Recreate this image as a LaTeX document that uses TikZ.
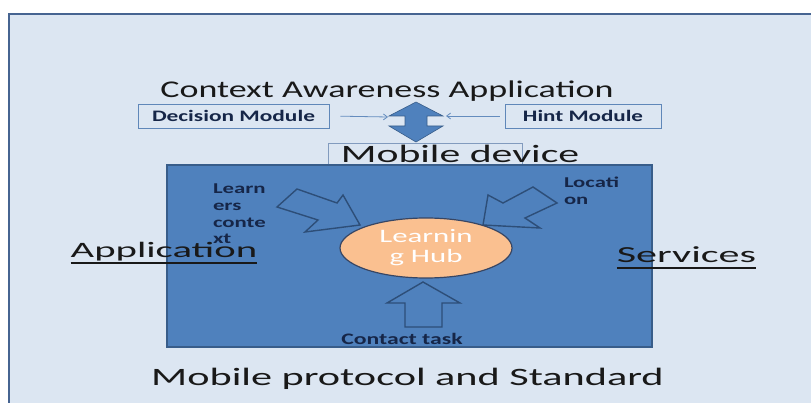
\documentclass[tikz,border=0pt]{standalone}
\usepackage{fontspec}
\setmainfont{Carlito}
\usetikzlibrary{arrows.meta,shapes.geometric}
\definecolor{bgfill}{RGB}{220,230,242}
\definecolor{bgedge}{RGB}{70,100,145}
\definecolor{boxblue}{RGB}{79,129,189}
\definecolor{boxedge}{RGB}{56,93,138}
\definecolor{hubfill}{RGB}{250,192,144}
\definecolor{hubedge}{RGB}{55,70,100}
\definecolor{outl}{RGB}{45,78,120}
\definecolor{navy}{RGB}{22,38,72}
\definecolor{ink}{RGB}{25,25,25}
\definecolor{modedge}{RGB}{95,135,185}
\definecolor{mobedge}{RGB}{130,155,190}
\definecolor{thinarrow}{RGB}{100,140,190}
\newcommand\fs[1]{\fontsize{#1}{#1}\selectfont}
\newcommand\sx[2]{\scalebox{#1}[1]{#2}}
\begin{document}
\begin{tikzpicture}[x=1pt,y=-1pt,
  txt/.style={inner sep=0pt, outer sep=0pt},
  modbox/.style={draw=modedge, fill=bgfill, line width=0.9pt, inner sep=0pt},
  outarrow/.style={draw=outl, line width=1.4pt, line join=miter},
  link/.style={draw=thinarrow, line width=0.8pt, -{Straight Barb[length=4pt,width=6pt]}},
  uline/.style={draw=ink, line width=1.4pt}]
\useasboundingbox (0,0) rectangle (811,403);
\fill[white] (0,0) rectangle (811,403);
\clip (0,0) rectangle (811,403);
% background panel
\draw[fill=bgfill, draw=bgedge, line width=2pt] (9,14) rectangle (840,430);
% module boxes
\node[modbox, minimum width=191pt, minimum height=24pt] (dec) at (233.5,116)
  {\fs{16}\color{navy}\bfseries\sx{1.46}{Decision Module}};
\node[modbox, minimum width=156pt, minimum height=24pt] (hint) at (583,116)
  {\fs{16}\color{navy}\bfseries\sx{1.44}{Hint Module}};
% double arrow
\fill[boxblue, draw=boxedge, line width=0.6pt]
  (416,102) -- (443,116) -- (427,116) -- (427,126) -- (443,126) -- (416,142)
  -- (389,126) -- (405,126) -- (405,116) -- (389,116) -- cycle;
\coordinate (dtip) at (388,117);
\coordinate (htip) at (446,116);
\draw[link, shorten <=11pt] (dec.east) -- (dtip);
\draw[link, shorten <=5pt] (hint.west) -- (htip);
% title
\node[txt, anchor=base] (title) at (387,98) {\fs{24}\color{ink}\sx{1.5}{Context Awareness Application}};
% mobile device box
\node[draw=mobedge, line width=0.9pt, minimum width=194pt, minimum height=34pt, inner sep=0pt] (mob) at (425,160) {};
% main blue box
\node[fill=boxblue, draw=boxedge, line width=1.2pt, minimum width=485pt, minimum height=182pt, inner sep=0pt] (dev) at (409.5,256) {};
\node[txt, anchor=base] (mobtxt) at (460,163) {\fs{25}\color{ink}\sx{1.67}{Mobile device}};
% side labels
\node[txt, anchor=base] (app) at (164,258) {\fs{22}\color{ink}\sx{1.85}{Application}};
\draw[uline] ([yshift=-5pt]app.base west) -- ([yshift=-5pt]app.base east);
\node[txt, anchor=base] (serv) at (686.5,263) {\fs{23}\color{ink}\sx{1.83}{Services}};
\draw[uline] ([yshift=-5pt]serv.base west) -- ([yshift=-5pt]serv.base east);
% outline arrows
\draw[outarrow] (277,207) -- (297,189) -- (337,203) -- (343,195) -- (360,225) -- (305,232) -- (318,220) -- cycle;
\draw[outarrow] (533,187) -- (557,203) -- (525,218) -- (540,228) -- (483,225) -- (488,195) -- (503,203) -- cycle;
\draw[outarrow] (405,327) -- (405,303) -- (387,303) -- (423,282) -- (460,303) -- (442,303) -- (442,327) -- cycle;
% learning hub
\node[ellipse, fill=hubfill, draw=hubedge, line width=1.2pt, minimum width=172pt, minimum height=60pt, inner sep=0pt, align=center, text=white, font=\fontsize{19}{20}\selectfont] (hub) at (426,248)
  {\sx{1.62}{Learnin}\\\sx{1.62}{g Hub}};
% labels in box
\node[txt, anchor=north west, align=left, text=navy, font=\fontsize{15}{16.7}\selectfont\bfseries] (lctx) at (213,184)
  {\sx{1.52}{Learn}\\\sx{1.52}{ers}\\\sx{1.52}{conte}\\\sx{1.52}{xt}};
\node[txt, anchor=north west, align=left, text=navy, font=\fontsize{15}{16.7}\selectfont\bfseries] (loc) at (564,177)
  {\sx{1.51}{Locati}\\\sx{1.51}{on}};
\node[txt, anchor=base] (task) at (402,344) {\fs{16}\color{navy}\bfseries\sx{1.48}{Contact task}};
% bottom label
\node[txt, anchor=base] (proto) at (407.5,385) {\fs{25}\color{ink}\sx{1.69}{Mobile protocol and Standard}};
\end{tikzpicture}
\end{document}
